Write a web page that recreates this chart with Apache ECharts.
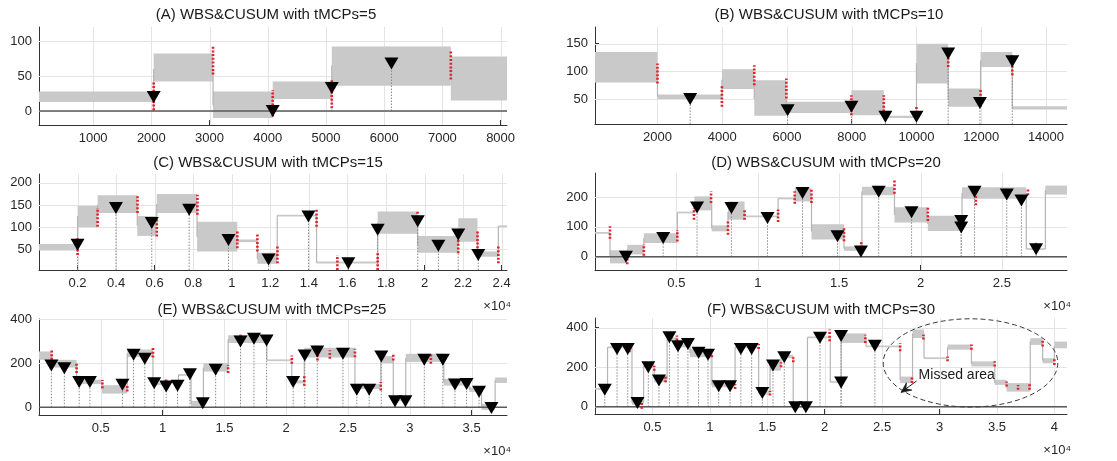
<!DOCTYPE html>
<html>
<head>
<meta charset="utf-8">
<script src="https://cdn.jsdelivr.net/npm/echarts@6.0.0/dist/echarts.min.js"></script>
<style>html,body{margin:0;padding:0;background:#fff;}#chart{width:1117px;height:461px;}</style>
</head>
<body>
<div id="chart"></div>
<script>
// ---------------- DATA ----------------
// Panel A
const A_title = '(A) WBS&CUSUM with tMCPs=5';
const A_xTicks = [1000, 2000, 3000, 4000, 5000, 6000, 7000, 8000];
const A_xLabels = ['1000', '2000', '3000', '4000', '5000', '6000', '7000', '8000'];
const A_yTicks = [0, 50, 100];
const A_yLabels = ['0', '50', '100'];
const A_edges = [1, 2040, 3060, 4085, 5100, 7145, 8200];
const A_low = [13, 42, -10, 17, 36, 15];
const A_high = [28, 82, 28, 42, 92, 78];
const A_level = [20, 60, 8, 28, 65, 45];
const A_cpX = [2040, 3060, 4085, 5100, 7145];
const A_cpLo = [1, 52, -8, 4, 45];
const A_cpHi = [42, 93, 30, 45, 86];
const A_detX = [2040, 4085, 5100, 6125];
const A_detY = [20, 0, 33, 68];

// Panel B
const B_title = '(B) WBS&CUSUM with tMCPs=10';
const B_xTicks = [2000, 4000, 6000, 8000, 10000, 12000, 14000];
const B_xLabels = ['2000', '4000', '6000', '8000', '10000', '12000', '14000'];
const B_yTicks = [50, 100, 150];
const B_yLabels = ['50', '100', '150'];
const B_edges = [1, 2000, 3990, 4990, 5980, 7990, 8990, 10000, 10980, 11980, 12960, 14700];
const B_low = [80, 50, 68, 20, 25, 21, 16, 78, 36, 108, 31];
const B_high = [135, 58, 104, 84, 45, 66, 20, 150, 69, 135, 37];
const B_level = [105, 54, 85, 50, 33, 40, 18, 115, 50, 120, 34];
const B_cpX = [2000, 3990, 4990, 5980, 7990, 8990, 10000, 10980, 11980, 12960];
const B_cpLo = [78, 36, 75, 51, 21, 21, 12, 108, 36, 93];
const B_cpHi = [114, 75, 111, 87, 57, 57, 39, 141, 69, 129];
const B_detX = [3010, 6020, 7990, 9040, 10000, 10980, 11960, 12960];
const B_detY = [50, 30, 36, 18, 18, 132, 43, 118];

// Panel C
const C_title = '(C) WBS&CUSUM with tMCPs=15';
const C_xTicks = [2000, 4000, 6000, 8000, 10000, 12000, 14000, 16000, 18000, 20000, 22000, 24000];
const C_xLabels = ['0.2', '0.4', '0.6', '0.8', '1', '1.2', '1.4', '1.6', '1.8', '2', '2.2', '2.4'];
const C_yTicks = [50, 100, 150, 200];
const C_yLabels = ['50', '100', '150', '200'];
const C_edges = [1, 2000, 3040, 5100, 6110, 8200, 10290, 11330, 12360, 14400, 17570, 19640, 21750, 22750, 23830, 24300];
const C_low = [47, 100, 132, 80, 132, 45, 66, 17, 124, 18, 85, 42, 67, 33, 100];
const C_high = [62, 148, 172, 125, 175, 112, 72, 42, 128, 22, 135, 80, 120, 45, 104];
const C_level = [55, 125, 150, 103, 152, 78, 69, 28, 126, 20, 110, 60, 88, 38, 102];
const C_cpX = [2000, 3040, 5110, 6110, 8220, 10290, 11330, 12370, 14400, 15480, 17570, 19640, 21750, 22750, 23830];
const C_cpLo = [37, 101, 132, 79, 128, 52, 45, 18, 101, 3, 3, 105, 41, 52, 18];
const C_cpHi = [75, 143, 173, 120, 173, 90, 84, 60, 139, 37, 41, 135, 71, 94, 56];
const C_detX = [2000, 3990, 5850, 7790, 9830, 11910, 13980, 16050, 17570, 19650, 20720, 21750, 22790];
const C_detY = [60, 143, 109, 139, 71, 27, 124, 18, 94, 113, 58, 83, 37];

// Panel D
const D_title = '(D) WBS&CUSUM with tMCPs=20';
const D_xTicks = [5000, 10000, 15000, 20000, 25000];
const D_xLabels = ['0.5', '1', '1.5', '2', '2.5'];
const D_yTicks = [0, 100, 200];
const D_yLabels = ['0', '100', '200'];
const D_edges = [0, 920, 1980, 3000, 5060, 6110, 7170, 8170, 9190, 11250, 12270, 13300, 15300, 16400, 18400, 20450, 22550, 26500, 27670, 29000];
const D_low = [78, -22, 8, 46, 146, 155, 85, 124, 133, 193, 185, 58, 20, 206, 115, 86, 194, 23, 208];
const D_high = [82, 22, 40, 79, 150, 202, 105, 185, 137, 197, 230, 109, 35, 234, 166, 137, 232, 29, 238];
const D_level = [80, 0, 25, 62, 148, 180, 95, 150, 135, 195, 205, 85, 27, 218, 140, 110, 213, 26, 222];
const D_cpX = [920, 1980, 3000, 5060, 6080, 7130, 8170, 9190, 11250, 12270, 13300, 15300, 16360, 18400, 20450, 23400, 25600, 26600, 27100];
const D_cpLo = [60, -25, 4, 51, 124, 180, 74, 124, 116, 177, 180, 52, 30, 211, 120, 172, 220, 206, 40];
const D_cpHi = [102, -5, 42, 90, 163, 219, 118, 158, 158, 219, 225, 98, 52, 257, 166, 223, 232, 225, 51];
const D_detX = [1900, 4190, 6270, 8380, 10600, 12750, 14900, 16340, 17430, 19450, 22500, 22500, 23320, 25300, 26200, 27100];
const D_detY = [0, 63, 165, 163, 130, 213, 69, 18, 217, 149, 120, 98, 217, 208, 188, 25];

// Panel E
const E_title = '(E) WBS&CUSUM with tMCPs=25';
const E_xTicks = [5000, 10000, 15000, 20000, 25000, 30000, 35000];
const E_xLabels = ['0.5', '1', '1.5', '2', '2.5', '3', '3.5'];
const E_yTicks = [0, 200, 400];
const E_yLabels = ['0', '200', '400'];
const E_edges = [0, 1030, 3040, 5100, 7140, 9220, 10280, 11280, 12300, 13300, 15300, 18430, 20450, 21460, 25560, 27650, 28660, 29670, 32750, 34800, 35800, 36900, 37900];
const E_low = [215, 180, 105, 62, 228, 100, 112, 143, 3, 162, 291, 211, 108, 225, 83, 200, 28, 205, 98, 70, -12, 110];
const E_high = [253, 215, 125, 100, 262, 112, 118, 150, 29, 200, 326, 215, 122, 270, 106, 232, 38, 242, 129, 90, 15, 135];
const E_level = [235, 200, 115, 80, 245, 106, 115, 147, 15, 180, 308, 213, 115, 245, 95, 215, 33, 222, 112, 80, 0, 122];
const E_cpX = [1030, 3040, 5130, 7140, 9220, 10280, 11280, 15300, 16300, 20450, 21460, 22530, 23530, 25560, 27650, 28660, 31700, 36900];
const E_cpLo = [215, 155, 86, 71, 226, 117, 101, 155, 321, 197, 98, 212, 220, 227, 76, 212, 197, 12];
const E_cpHi = [260, 200, 124, 101, 271, 127, 117, 192, 329, 235, 144, 258, 258, 265, 114, 245, 242, 27];
const E_detX = [1000, 2050, 3250, 4120, 6750, 7650, 8560, 9320, 10290, 11210, 12210, 13250, 14290, 16300, 17390, 18410, 20560, 21500, 22510, 24590, 25710, 26710, 27690, 28800, 29640, 31170, 32670, 33650, 34590, 35600, 36600];
const E_detY = [189, 177, 114, 114, 102, 238, 220, 109, 94, 97, 150, 18, 170, 298, 311, 303, 114, 235, 253, 242, 79, 79, 230, 27, 27, 215, 215, 103, 106, 70, -3];

// Panel F
const F_title = '(F) WBS&CUSUM with tMCPs=30';
const F_xTicks = [5000, 10000, 15000, 20000, 25000, 30000, 35000, 40000];
const F_xLabels = ['0.5', '1', '1.5', '2', '2.5', '3', '3.5', '4'];
const F_yTicks = [0, 200, 400];
const F_yLabels = ['0', '200', '400'];
const F_edges = [0, 1090, 3220, 4230, 5160, 6280, 7200, 8270, 10180, 12200, 14250, 15240, 16200, 17260, 18500, 20490, 21430, 23600, 26570, 27650, 28650, 30700, 32780, 34810, 35840, 37900, 38980, 40000, 41100];
const F_low = [86, 296, 10, 195, 123, 338, 300, 250, 98, 297, 60, 182, 245, -4, 347, 122, 322, 302, 119, 347, 242, 288, 203, 110, 76, 312, 219, 295];
const F_high = [94, 304, 30, 215, 157, 350, 317, 292, 132, 303, 80, 233, 262, 4, 353, 128, 370, 308, 152, 390, 248, 314, 229, 136, 119, 346, 245, 329];
const F_level = [90, 300, 20, 205, 140, 345, 310, 270, 110, 300, 70, 210, 255, 0, 350, 125, 345, 305, 135, 370, 245, 300, 215, 120, 95, 330, 232, 305];
const F_cpX = [3000, 4070, 5160, 6140, 7130, 10180, 12200, 14250, 15240, 16200, 17260, 20430, 23540, 26570, 27600, 28600, 30700, 32780, 34810, 35840, 36840, 37840, 38980, 40000];
const F_cpLo = [275, -10, 182, 123, 334, 250, 89, 292, 56, 199, 224, 330, 322, 280, 119, 339, 229, 288, 203, 102, 85, 85, 304, 211];
const F_cpHi = [300, 20, 207, 157, 360, 267, 115, 317, 81, 224, 250, 390, 364, 322, 152, 364, 254, 314, 229, 127, 110, 119, 338, 245];
const F_detX = [850, 1920, 2850, 3700, 4640, 5570, 6480, 7230, 8090, 9020, 9840, 10770, 11760, 12700, 13640, 14570, 15500, 16480, 17440, 18360, 19590, 21430, 21430, 24370];
const F_detY = [86, 292, 292, 19, 199, 132, 351, 305, 317, 272, 262, 103, 103, 292, 292, 69, 208, 250, -3, -3, 348, 357, 122, 308];
// annotation (F): ellipse bounds and arrow, in data units
const F_missX = [25100, 40300];
const F_missY = [-2, 444];
const F_missText = 'Missed area';
const F_missTextAt = [31500, 160];
const F_arrowTail = [28000, 130];
const F_arrowTip = [26650, 72];
const X_MULT = '×10⁴';

// ---------------- LAYOUT ----------------
const FONT = '"Liberation Sans", Arial, Helvetica, sans-serif';
const panels = [
  {grid:{left:39, top:27, width:468, height:98}, xMin:70, xMax:8110, yMin:-20, yMax:120, baseline:true, titleX:266, titleY:15, mult:false,
   title:A_title, xTicks:A_xTicks, xLabels:A_xLabels, yTicks:A_yTicks, yLabels:A_yLabels, edges:A_edges, low:A_low, high:A_high, level:A_level, cpX:A_cpX, cpLo:A_cpLo, cpHi:A_cpHi, detX:A_detX, detY:A_detY},
  {grid:{left:595, top:27, width:472, height:97}, xMin:70, xMax:14650, yMin:5, yMax:180, baseline:false, titleX:829, titleY:15, mult:false,
   title:B_title, xTicks:B_xTicks, xLabels:B_xLabels, yTicks:B_yTicks, yLabels:B_yLabels, edges:B_edges, low:B_low, high:B_high, level:B_level, cpX:B_cpX, cpLo:B_cpLo, cpHi:B_cpHi, detX:B_detX, detY:B_detY},
  {grid:{left:39, top:174, width:468, height:96}, xMin:0, xMax:24280, yMin:3, yMax:220, baseline:false, titleX:268, titleY:163, mult:true,
   title:C_title, xTicks:C_xTicks, xLabels:C_xLabels, yTicks:C_yTicks, yLabels:C_yLabels, edges:C_edges, low:C_low, high:C_high, level:C_level, cpX:C_cpX, cpLo:C_cpLo, cpHi:C_cpHi, detX:C_detX, detY:C_detY},
  {grid:{left:595, top:173, width:472, height:97}, xMin:0, xMax:29000, yMin:-44, yMax:280, baseline:true, titleX:826, titleY:163, mult:true,
   title:D_title, xTicks:D_xTicks, xLabels:D_xLabels, yTicks:D_yTicks, yLabels:D_yLabels, edges:D_edges, low:D_low, high:D_high, level:D_level, cpX:D_cpX, cpLo:D_cpLo, cpHi:D_cpHi, detX:D_detX, detY:D_detY},
  {grid:{left:39, top:319, width:468, height:96}, xMin:0, xMax:37860, yMin:-35, yMax:400, baseline:true, titleX:272, titleY:310, mult:true,
   title:E_title, xTicks:E_xTicks, xLabels:E_xLabels, yTicks:E_yTicks, yLabels:E_yLabels, edges:E_edges, low:E_low, high:E_high, level:E_level, cpX:E_cpX, cpLo:E_cpLo, cpHi:E_cpHi, detX:E_detX, detY:E_detY},
  {grid:{left:595, top:318, width:472, height:96}, xMin:0, xMax:41100, yMin:-37, yMax:448, baseline:true, titleX:821, titleY:310, mult:true,
   title:F_title, xTicks:F_xTicks, xLabels:F_xLabels, yTicks:F_yTicks, yLabels:F_yLabels, edges:F_edges, low:F_low, high:F_high, level:F_level, cpX:F_cpX, cpLo:F_cpLo, cpHi:F_cpHi, detX:F_detX, detY:F_detY}
];

function clamp(v, a, b) { return Math.max(a, Math.min(b, v)); }

const grids = [], xAxes = [], yAxes = [], series = [], graphics = [];

panels.forEach((p, i) => {
  grids.push(Object.assign({containLabel:false}, p.grid));
  xAxes.push({
    type:'value', gridIndex:i, min:p.xMin, max:p.xMax,
    axisLine:{show:true, onZero:false, lineStyle:{color:'#333', width:1}},
    axisTick:{show:true, inside:true, length:5, customValues:p.xTicks, lineStyle:{color:'#333'}},
    axisLabel:{show:true, customValues:p.xTicks, color:'#262626', fontSize:13, fontFamily:FONT, margin:7,
      formatter:(v) => { const k = p.xTicks.indexOf(v); return k >= 0 ? p.xLabels[k] : ''; }},
    splitLine:{show:false}
  });
  yAxes.push({
    type:'value', gridIndex:i, min:p.yMin, max:p.yMax,
    axisLine:{show:true, onZero:false, lineStyle:{color:'#333', width:1}},
    axisTick:{show:true, inside:true, length:4, customValues:p.yTicks, lineStyle:{color:'#333'}},
    axisLabel:{show:true, customValues:p.yTicks, color:'#262626', fontSize:13, fontFamily:FONT, margin:7,
      formatter:(v) => { const k = p.yTicks.indexOf(v); return k >= 0 ? p.yLabels[k] : ''; }},
    splitLine:{show:false}
  });

  // grid lines
  const gData = p.xTicks.map(v => [v, 0]).concat(p.yTicks.map(v => [v, 1]));
  series.push({
    type:'custom', xAxisIndex:i, yAxisIndex:i, z:1, silent:true, animation:false,
    data:gData,
    renderItem:(params, api) => {
      const cs = params.coordSys, v = api.value(0), o = api.value(1);
      if (o === 0) {
        const px = Math.round(api.coord([v, p.yMin])[0]) + 0.5;
        return {type:'line', shape:{x1:px, y1:cs.y, x2:px, y2:cs.y + cs.height}, style:{stroke:'#e4e4e4', lineWidth:1}};
      }
      const py = Math.round(api.coord([p.xMin, v])[1]) + 0.5;
      return {type:'line', shape:{x1:cs.x, y1:py, x2:cs.x + cs.width, y2:py}, style:{stroke:'#e4e4e4', lineWidth:1}};
    }
  });

  // signal bands
  const bData = p.low.map((lo, k) => [p.edges[k], p.edges[k + 1], lo, p.high[k]]);
  series.push({
    type:'custom', xAxisIndex:i, yAxisIndex:i, z:2, silent:true, animation:false,
    data:bData,
    renderItem:(params, api) => {
      const cs = params.coordSys;
      const a = api.coord([api.value(0), api.value(3)]);
      const b = api.coord([api.value(1), api.value(2)]);
      const left = clamp(a[0], cs.x, cs.x + cs.width), right = clamp(b[0], cs.x, cs.x + cs.width);
      let top = a[1], bot = b[1];
      if (bot - top < 1.8) { const m = (top + bot) / 2; top = m - 0.9; bot = m + 0.9; }
      top = clamp(top, cs.y, cs.y + cs.height); bot = clamp(bot, cs.y, cs.y + cs.height);
      if (right <= left || bot <= top) return null;
      return {type:'rect', shape:{x:left, y:top, width:right - left, height:bot - top}, style:{fill:'#c9c9c9'}};
    }
  });

  // signal jumps between segments
  const jData = p.level.slice(1).map((lv, k) => [p.edges[k + 1], p.level[k], lv]);
  series.push({
    type:'custom', xAxisIndex:i, yAxisIndex:i, z:2, silent:true, animation:false,
    data:jData,
    renderItem:(params, api) => {
      const cs = params.coordSys;
      const a = api.coord([api.value(0), api.value(1)]);
      const b = api.coord([api.value(0), api.value(2)]);
      if (a[0] < cs.x || a[0] > cs.x + cs.width) return null;
      return {type:'line', shape:{x1:a[0], y1:clamp(a[1], cs.y, cs.y + cs.height), x2:b[0], y2:clamp(b[1], cs.y, cs.y + cs.height)},
        style:{stroke:'#b5b5b5', lineWidth:1.2}};
    }
  });

  // zero baseline
  if (p.baseline) {
    series.push({
      type:'line', xAxisIndex:i, yAxisIndex:i, z:3, silent:true, animation:false, symbol:'none',
      data:[[p.xMin, 0], [p.xMax, 0]], lineStyle:{color:'#5a5a5a', width:1.5}
    });
  }

  // stems
  series.push({
    type:'custom', xAxisIndex:i, yAxisIndex:i, z:3, silent:true, animation:false,
    data:p.detX.map((x, k) => [x, p.detY[k]]),
    renderItem:(params, api) => {
      const cs = params.coordSys;
      const a = api.coord([api.value(0), 0]);
      const b = api.coord([api.value(0), api.value(1)]);
      const y1 = clamp(a[1], cs.y, cs.y + cs.height), y2 = clamp(b[1], cs.y, cs.y + cs.height);
      if (Math.abs(y1 - y2) < 1) return null;
      return {type:'line', shape:{x1:a[0], y1:y1, x2:b[0], y2:y2}, style:{stroke:'#8c8c8c', lineWidth:1, lineDash:[1.5, 1.5]}};
    }
  });

  // red dotted true change points
  series.push({
    type:'custom', xAxisIndex:i, yAxisIndex:i, z:4, silent:true, animation:false,
    data:p.cpX.map((x, k) => [x, p.cpLo[k], p.cpHi[k]]),
    renderItem:(params, api) => {
      const cs = params.coordSys;
      const a = api.coord([api.value(0), api.value(1)]);
      const b = api.coord([api.value(0), api.value(2)]);
      return {type:'line', shape:{x1:a[0], y1:clamp(a[1], cs.y, cs.y + cs.height), x2:b[0], y2:clamp(b[1], cs.y, cs.y + cs.height)},
        style:{stroke:'#e3202b', lineWidth:2.6, lineDash:[2, 1.7]}};
    }
  });

  // detected change points (triangles)
  series.push({
    type:'scatter', xAxisIndex:i, yAxisIndex:i, z:5, silent:true, animation:false,
    symbol:'triangle', symbolRotate:180, symbolSize:[14, 12],
    itemStyle:{color:'#000', opacity:1},
    data:p.detX.map((x, k) => [x, p.detY[k]])
  });

  graphics.push({type:'text', x:p.titleX, y:p.titleY, silent:true,
    style:{text:p.title, fill:'#1a1a1a', fontSize:15, fontFamily:FONT, align:'center', verticalAlign:'middle'}});
  if (p.mult) {
    graphics.push({type:'text', x:p.grid.left + p.grid.width + 4, y:p.grid.top + p.grid.height + 36, silent:true,
      style:{text:X_MULT, fill:'#262626', fontSize:13, fontFamily:FONT, align:'right', verticalAlign:'middle'}});
  }
});

const chart = echarts.init(document.getElementById('chart'), null, {renderer:'canvas'});
chart.setOption({animation:false, backgroundColor:'#fff', grid:grids, xAxis:xAxes, yAxis:yAxes, series:series});

// ellipse annotation on panel F
const cMid = chart.convertToPixel({gridIndex:5}, [(F_missX[0] + F_missX[1]) / 2, (F_missY[0] + F_missY[1]) / 2]);
const cCorner = chart.convertToPixel({gridIndex:5}, [F_missX[1], F_missY[1]]);
const rx = cCorner[0] - cMid[0], ry = cMid[1] - cCorner[1];
const ePts = [];
for (let t = 0; t <= 120; t++) {
  const th = t / 120 * Math.PI * 2;
  ePts.push([cMid[0] + rx * Math.cos(th), cMid[1] + ry * Math.sin(th)]);
}
graphics.push({type:'polyline', silent:true, z:10, shape:{points:ePts}, style:{fill:null, stroke:'#3a3a3a', lineWidth:1, lineDash:[5, 3]}});
const tp = chart.convertToPixel({gridIndex:5}, F_missTextAt);
graphics.push({type:'text', x:tp[0], y:tp[1], silent:true, z:10,
  style:{text:F_missText, fill:'#1a1a1a', fontSize:14, fontFamily:FONT, align:'center', verticalAlign:'middle'}});
const tail = chart.convertToPixel({gridIndex:5}, F_arrowTail);
const tip = chart.convertToPixel({gridIndex:5}, F_arrowTip);
const dx = tip[0] - tail[0], dy = tip[1] - tail[1], L = Math.hypot(dx, dy), ux = dx / L, uy = dy / L;
const hl = 10, hw = 4.5;
const back = [tip[0] - ux * hl, tip[1] - uy * hl];
const notch = [tip[0] - ux * hl * 0.6, tip[1] - uy * hl * 0.6];
graphics.push({type:'line', silent:true, z:10, shape:{x1:tail[0], y1:tail[1], x2:notch[0], y2:notch[1]}, style:{stroke:'#1a1a1a', lineWidth:1}});
graphics.push({type:'polygon', silent:true, z:10, shape:{points:[tip, [back[0] - uy * hw, back[1] + ux * hw], notch, [back[0] + uy * hw, back[1] - ux * hw]]},
  style:{fill:'#1a1a1a', stroke:'#1a1a1a', lineWidth:0.8}});

chart.setOption({graphic:graphics});
</script>
</body>
</html>
